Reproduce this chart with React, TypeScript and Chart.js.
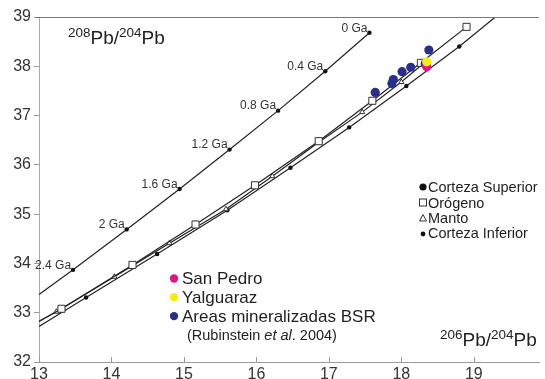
import React, { useEffect, useRef } from 'react';
import { Chart, registerables } from 'chart.js';

Chart.register(...registerables);

// ---- axis ticks ----
const xTickValues = [13, 14, 15, 16, 17, 18, 19];
const yTickValues = [32, 33, 34, 35, 36, 37, 38, 39];

// ---- growth curves ----
// Curve with model ages (labelled Ga)
const gaCurveX = [13.0, 13.47, 14.21, 14.94, 15.63, 16.3, 16.95, 17.56];
const gaCurveY = [33.37, 33.87, 34.69, 35.51, 36.31, 37.1, 37.9, 38.68];
const gaLabels = ['', '2.4 Ga', '2 Ga', '1.6 Ga', '1.2 Ga', '0.8 Ga', '0.4 Ga', '0 Ga'];

// Orógeno
const orogenX = [13.0, 13.31, 14.29, 15.16, 15.98, 16.86, 17.6, 18.27, 18.9];
const orogenY = [32.82, 33.08, 33.97, 34.79, 35.585, 36.48, 37.3, 38.07, 38.8];

// Manto
const mantleX = [13.0, 13.24, 14.04, 14.8, 15.58, 16.22, 16.85, 17.46, 18.0, 18.3];
const mantleY = [32.83, 33.02, 33.73, 34.41, 35.1, 35.77, 36.45, 37.07, 37.68, 38.05];

// Corteza Superior
const upperCrustX = [13.0, 13.65, 14.63, 15.6, 16.47, 17.28, 18.07, 18.8, 19.29];
const upperCrustY = [32.72, 33.31, 34.19, 35.08, 35.94, 36.76, 37.6, 38.4, 38.99];

// ---- samples ----
const bsrX = [17.64, 17.87, 17.89, 18.01, 18.13, 18.38, 18.33];
const bsrY = [37.47, 37.65, 37.73, 37.89, 37.98, 38.33, 38.05];
const sanPedroX = [18.35];
const sanPedroY = [37.99];
const yalguarazX = [18.35];
const yalguarazY = [38.09];

// ---- texts ----
const sampleLegend = ['San Pedro', 'Yalguaraz', 'Areas mineralizadas BSR'];
const curveLegend = ['Corteza Superior', 'Orógeno', 'Manto', 'Corteza Inferior'];

const FONT = "'Liberation Sans', Arial, Helvetica, sans-serif";
const MAGENTA = '#dd1a7f';
const YELLOW = '#f6ea1c';
const NAVY = '#283089';
const INK = '#222222';

const pts = (xs: number[], ys: number[]) => xs.map((x, i) => ({ x, y: ys[i] }));
const endless = (n: number, r: number, skipFirst: boolean, skipLast: boolean) =>
  Array.from({ length: n }, (_, i) => ((skipFirst && i === 0) || (skipLast && i === n - 1) ? 0 : r));

const decorPlugin = {
  id: 'decor',
  afterDraw(chart: any) {
    const { ctx, chartArea, scales } = chart;
    const xs = scales.x;
    const ys = scales.y;
    ctx.save();

    // top frame line
    ctx.strokeStyle = '#777';
    ctx.lineWidth = 1;
    ctx.beginPath();
    ctx.moveTo(chartArea.left - 3, chartArea.top + 0.5);
    ctx.lineTo(chartArea.right, chartArea.top + 0.5);
    ctx.stroke();

    // inward x tick marks
    ctx.strokeStyle = '#999';
    xTickValues.forEach((v) => {
      const px = Math.round(xs.getPixelForValue(v)) + 0.5;
      ctx.beginPath();
      ctx.moveTo(px, chartArea.bottom + 1);
      ctx.lineTo(px, chartArea.bottom - 5);
      ctx.stroke();
    });

    // Ga labels
    ctx.fillStyle = '#333';
    ctx.font = `12px ${FONT}`;
    ctx.textAlign = 'right';
    ctx.textBaseline = 'middle';
    gaLabels.forEach((lab, i) => {
      if (!lab) return;
      const px = xs.getPixelForValue(gaCurveX[i]);
      const py = ys.getPixelForValue(gaCurveY[i]);
      ctx.fillText(lab, px - 2, py - 4.5);
    });

    // axis titles with superscripts
    const drawIso = (x0: number, base: number, parts: [string, boolean][]) => {
      ctx.textAlign = 'left';
      ctx.textBaseline = 'alphabetic';
      ctx.fillStyle = INK;
      let x = x0;
      parts.forEach(([t, sup]) => {
        ctx.font = sup ? `13.5px ${FONT}` : `19px ${FONT}`;
        ctx.fillText(t, x, sup ? base - 7.5 : base);
        x += ctx.measureText(t).width;
      });
    };
    drawIso(68, 44, [['208', true], ['Pb/', false], ['204', true], ['Pb', false]]);
    drawIso(440, 346, [['206', true], ['Pb/', false], ['204', true], ['Pb', false]]);

    // sample legend (left)
    const sampleColors = [MAGENTA, YELLOW, NAVY];
    const sBase = [284, 302.8, 321.6];
    sampleLegend.forEach((lab, i) => {
      ctx.fillStyle = sampleColors[i];
      ctx.beginPath();
      ctx.arc(174, sBase[i] - 5.5, 4.2, 0, Math.PI * 2);
      ctx.fill();
      ctx.fillStyle = INK;
      ctx.font = `17px ${FONT}`;
      ctx.textAlign = 'left';
      ctx.textBaseline = 'alphabetic';
      ctx.fillText(lab, 182, sBase[i]);
    });
    // reference line
    {
      let x = 187;
      const base = 340;
      const seg: [string, boolean][] = [['(Rubinstein ', false], ['et al', true], ['. 2004)', false]];
      seg.forEach(([t, it]) => {
        ctx.font = `${it ? 'italic ' : ''}14.5px ${FONT}`;
        ctx.fillText(t, x, base);
        x += ctx.measureText(t).width;
      });
    }

    // curve legend (right)
    const cBase = [192, 207.5, 223, 238];
    const mx = 423;
    curveLegend.forEach((lab, i) => {
      const my = cBase[i] - 5;
      ctx.lineWidth = 1;
      ctx.strokeStyle = '#333';
      ctx.fillStyle = '#111';
      if (i === 0) {
        ctx.beginPath();
        ctx.arc(mx, my, 3.6, 0, Math.PI * 2);
        ctx.fill();
      } else if (i === 1) {
        ctx.fillStyle = '#fff';
        ctx.fillRect(mx - 3.5, my - 3.5, 7, 7);
        ctx.strokeRect(mx - 3.5, my - 3.5, 7, 7);
      } else if (i === 2) {
        ctx.beginPath();
        ctx.moveTo(mx, my - 3.5);
        ctx.lineTo(mx + 3.5, my + 3);
        ctx.lineTo(mx - 3.5, my + 3);
        ctx.closePath();
        ctx.fillStyle = '#fff';
        ctx.fill();
        ctx.stroke();
      } else {
        ctx.beginPath();
        ctx.arc(mx, my + 1, 2.4, 0, Math.PI * 2);
        ctx.fill();
      }
      ctx.fillStyle = INK;
      ctx.font = `14.5px ${FONT}`;
      ctx.textAlign = 'left';
      ctx.textBaseline = 'alphabetic';
      ctx.fillText(lab, 428, cBase[i]);
    });

    ctx.restore();
  },
};

export default function App() {
  const canvasRef = useRef<HTMLCanvasElement | null>(null);

  useEffect(() => {
    const canvas = canvasRef.current;
    if (!canvas) return;
    const lineCommon = {
      showLine: true,
      borderColor: INK,
      borderWidth: 1.2,
      tension: 0,
      fill: false,
    };
    const chart = new Chart(canvas, {
      type: 'scatter',
      data: {
        datasets: [
          {
            label: 'Yalguaraz',
            data: pts(yalguarazX, yalguarazY),
            pointRadius: 4.6,
            pointBackgroundColor: YELLOW,
            pointBorderWidth: 0,
            order: 0,
          },
          {
            label: 'San Pedro',
            data: pts(sanPedroX, sanPedroY),
            pointRadius: 4.6,
            pointBackgroundColor: MAGENTA,
            pointBorderWidth: 0,
            order: 1,
          },
          {
            label: 'Areas mineralizadas BSR',
            data: pts(bsrX, bsrY),
            pointRadius: 4.6,
            pointBackgroundColor: NAVY,
            pointBorderWidth: 0,
            order: 2,
          },
          {
            ...lineCommon,
            label: 'Orógeno',
            data: pts(orogenX, orogenY),
            pointStyle: 'rect',
            pointRadius: endless(orogenX.length, 5, true, false),
            pointBackgroundColor: '#fff',
            pointBorderColor: '#333',
            pointBorderWidth: 1,
            order: 3,
          },
          {
            ...lineCommon,
            label: 'Manto',
            data: pts(mantleX, mantleY),
            pointStyle: 'triangle',
            pointRadius: endless(mantleX.length, 3, true, true),
            pointBackgroundColor: '#fff',
            pointBorderColor: '#333',
            pointBorderWidth: 1,
            order: 4,
          },
          {
            ...lineCommon,
            label: 'Corteza Superior',
            data: pts(upperCrustX, upperCrustY),
            pointRadius: endless(upperCrustX.length, 2.2, true, true),
            pointBackgroundColor: '#111',
            pointBorderWidth: 0,
            order: 5,
          },
          {
            ...lineCommon,
            label: 'Corteza Inferior',
            data: pts(gaCurveX, gaCurveY),
            pointRadius: endless(gaCurveX.length, 2.2, true, false),
            pointBackgroundColor: '#111',
            pointBorderWidth: 0,
            order: 6,
          },
        ],
      },
      options: {
        animation: false,
        responsive: false,
        devicePixelRatio: 1,
        events: [],
        layout: { padding: { left: 0, right: 0, top: 17, bottom: 0 } },
        plugins: { legend: { display: false }, tooltip: { enabled: false } },
        scales: {
          x: {
            type: 'linear',
            min: 13,
            max: 19.9,
            afterBuildTicks: (s: any) => {
              s.ticks = xTickValues.map((v) => ({ value: v }));
            },
            afterFit: (s: any) => {
              s.height = 17;
            },
            grid: { display: false, drawTicks: false },
            border: { display: true, color: '#9a9a9a', width: 1 },
            ticks: {
              font: { family: FONT, size: 16 },
              color: '#333',
              padding: 3,
              maxRotation: 0,
              autoSkip: false,
            },
          },
          y: {
            type: 'linear',
            min: 32,
            max: 39,
            afterBuildTicks: (s: any) => {
              s.ticks = yTickValues.map((v) => ({ value: v }));
            },
            afterFit: (s: any) => {
              s.width = 39;
            },
            grid: { display: true, drawOnChartArea: false, drawTicks: true, tickLength: 5, color: '#999' },
            border: { display: true, color: '#aaa', width: 1 },
            ticks: {
              font: { family: FONT, size: 16 },
              color: '#333',
              padding: 3,
              autoSkip: false,
            },
          },
        },
      },
      plugins: [decorPlugin],
    } as any);
    return () => chart.destroy();
  }, []);

  return (
    <div style={{ position: 'fixed', left: 0, top: 0, width: 545, height: 379, background: '#fff', overflow: 'hidden' }}>
      <canvas ref={canvasRef} width={545} height={379} style={{ display: 'block' }} />
    </div>
  );
}
